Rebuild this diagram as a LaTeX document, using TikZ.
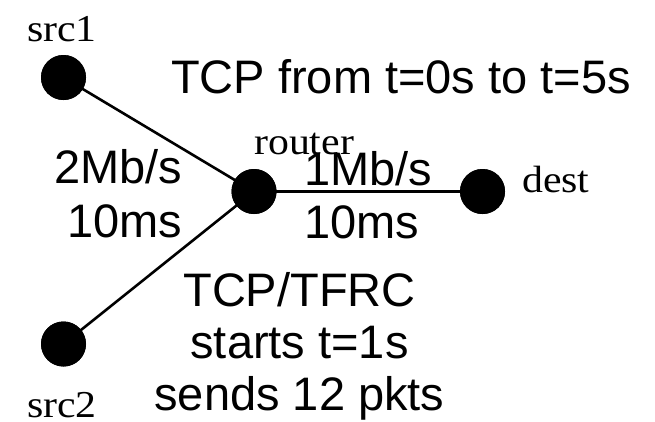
\documentclass[tikz,border=0pt]{standalone}
\usepackage{fontspec}
\setmainfont{Liberation Serif}
\newfontfamily\labsans{Liberation Sans}
\begin{document}
\begin{tikzpicture}[x=1pt,y=-1pt,
  dot/.style={circle,fill=black,draw=none,minimum size=45pt,inner sep=0pt},
  link/.style={line width=2.6pt,draw=black},
  sans/.style={font=\labsans\fontsize{47}{52}\selectfont,inner sep=0pt,anchor=base},
  serif/.style={font=\fontsize{38}{42}\selectfont,inner sep=0pt,anchor=base west}]
\useasboundingbox (0,0) rectangle (655,421);
\fill[white] (0,0) rectangle (655,421);
\node[dot] (src1) at (63.5,77.5) {};
\node[dot] (router) at (254,191.5) {};
\node[dot] (dest) at (482.5,191.5) {};
\node[dot] (src2) at (63.5,344) {};
\draw[link] (src1.center) -- (router.center);
\draw[link] (router.center) -- (dest.center);
\draw[link] (router.center) -- (src2.center);
\node[dot] at (src1) {};
\node[dot] at (router) {};
\node[dot] at (dest) {};
\node[dot] at (src2) {};
\node[serif] (lsrc1) at (27,41) {\scalebox{1.1}[1]{src1}};
\node[serif] (lsrc2) at (27,417) {\scalebox{1.1}[1]{src2}};
\node[serif] (lrouter) at (254,154) {\scalebox{1.1}[1]{router}};
\node[serif] (ldest) at (522,192) {\scalebox{1.1}[1]{dest}};
\node[sans] (title) at (401,93) {TCP from t=0s to t=5s};
\node[sans] (bw1) at (118.5,183) {2Mb/s};
\node[sans] (dl1) at (125,237) {10ms};
\node[sans] (bw2) at (368.5,185) {1Mb/s};
\node[sans] (dl2) at (361.5,238) {10ms};
\node[sans] (n1) at (299.5,306) {TCP/TFRC};
\node[sans] (n2) at (299.5,358) {starts t=1s};
\node[sans] (n3) at (299.5,410) {sends 12 pkts};
\end{tikzpicture}
\end{document}
